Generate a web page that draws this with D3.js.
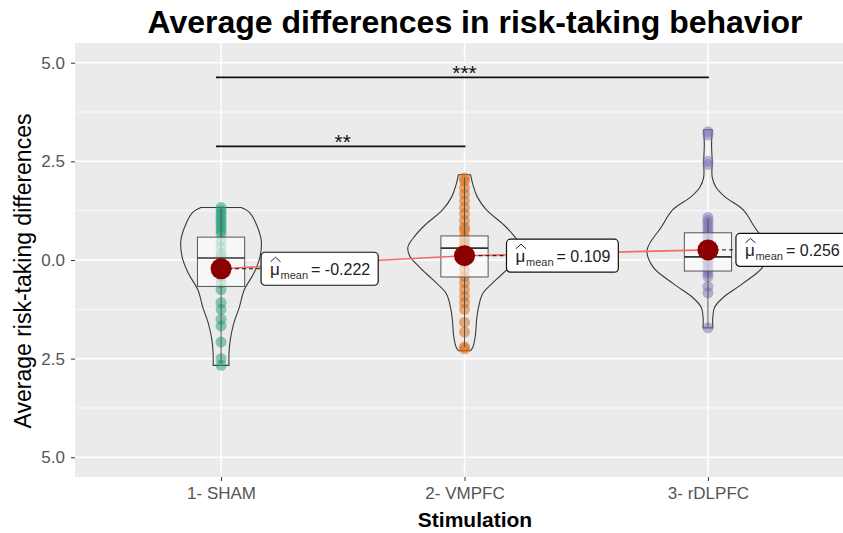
<!DOCTYPE html>
<html>
<head>
<meta charset="utf-8">
<script src="https://cdn.jsdelivr.net/npm/d3@7"></script>
<style>
  body { margin: 0; background: #fff; }
  svg { display: block; font-family: "Liberation Sans", Arial, sans-serif; }
</style>
</head>
<body>
<svg id="chart" width="843" height="533"></svg>
<script>
// ---- data ----
const categories = ["1- SHAM", "2- VMPFC", "3- rDLPFC"];

const shamValues = [1.33, 1.25, 1.17, 1.08, 1.0, 0.92, 0.83, 0.75, 0.67, 0.5, 0.33, 0.17, 0.08,
  -0.08, -0.25, -0.42, -0.58, -0.75, -1.08, -1.25, -1.5, -1.67, -2.08, -2.5, -2.67];
const vmpfcValues = [2.08, 2.0, 1.83, 1.67, 1.5, 1.33, 1.17, 1.0, 0.83, 0.75, 0.58, 0.5, 0.42, 0.33,
  0.33, 0.25, 0.17, 0.08, 0.0, -0.08, -0.25, -0.42, -0.58, -0.75, -0.92, -1.08, -1.25, -1.58, -1.83, -2.2, -2.25];
const rdlpfcValues = [3.25, 3.17, 2.5, 2.42, 1.08, 1.0, 0.92, 0.83, 0.75, 0.67, 0.58, 0.5, 0.42, 0.33,
  0.25, 0.17, 0.08, 0.0, -0.08, -0.17, -0.25, -0.33, -0.42, -0.67, -0.83, -1.72];

const meanValues = [-0.222, 0.109, 0.256];

// box-plot statistics per group
const q1Values = [-0.67, -0.43, -0.28];
const medianValues = [0.05, 0.3, 0.08];
const q3Values = [0.58, 0.61, 0.69];
const whiskerLowValues = [-2.62, -2.2, -1.7];
const whiskerHighValues = [1.33, 2.09, 1.07];

// violin outlines: [value, relative density]
const shamDensity = [[1.33, 0.33], [1.2, 0.47], [0.94, 0.57], [0.5, 0.66], [0.08, 0.64], [-0.33, 0.54],
  [-0.76, 0.38], [-1.2, 0.3], [-1.6, 0.21], [-2.03, 0.15], [-2.37, 0.13], [-2.67, 0.13]];
const vmpfcDensity = [[2.16, 0.1], [1.9, 0.14], [1.6, 0.21], [1.27, 0.36], [0.9, 0.64], [0.6, 0.82],
  [0.33, 0.93], [0.1, 0.9], [-0.18, 0.74], [-0.5, 0.52], [-0.85, 0.3], [-1.2, 0.23], [-1.5, 0.2],
  [-1.9, 0.18], [-2.2, 0.14], [-2.3, 0.1]];
const rdlpfcDensity = [[3.3, 0.07], [2.9, 0.06], [2.5, 0.07], [2.1, 0.07], [1.85, 0.13], [1.6, 0.28],
  [1.27, 0.58], [0.85, 0.76], [0.25, 1.0], [-0.18, 0.9], [-0.6, 0.57], [-0.95, 0.25], [-1.2, 0.11],
  [-1.45, 0.08], [-1.72, 0.08]];

const yTickValues = [-5, -2.5, 0, 2.5, 5];
const yTickLabels = ["5.0", "2.5", "0.0", "2.5", "5.0"];
const yMinorValues = [-3.75, -1.25, 1.25, 3.75];

// pairwise comparisons drawn as brackets above the groups
const comparisonPairs = [["1- SHAM", "2- VMPFC"], ["1- SHAM", "3- rDLPFC"]];
const comparisonHeights = [2.88, 4.63];
const comparisonLabels = ["**", "***"];

// ---- layout ----
const groupValues = [shamValues, vmpfcValues, rdlpfcValues];
const groupDensity = [shamDensity, vmpfcDensity, rdlpfcDensity];
const groupColors = ["#1B9E77", "#D95F02", "#7570B3"];
const labelOffsets = [40, 42, 28];

const panel = { left: 75, right: 854, top: 43, bottom: 477 };
const svg = d3.select("#chart");

const x = d3.scalePoint().domain(categories).range([panel.left, panel.right]).padding(0.6);
const y = d3.scaleLinear().domain([-5.5, 5.5]).range([panel.bottom, panel.top]);
const step = x.step();
const violinHalf = d3.scaleLinear().domain([0, 1]).range([0, 0.25 * step]);
const boxHalf = 0.097 * step;

// panel background and grid
svg.append("rect")
  .attr("x", panel.left).attr("y", panel.top)
  .attr("width", panel.right - panel.left).attr("height", panel.bottom - panel.top)
  .attr("fill", "#EBEBEB");

svg.append("g").selectAll("line").data(yMinorValues).join("line")
  .attr("x1", panel.left).attr("x2", panel.right)
  .attr("y1", d => y(d)).attr("y2", d => y(d))
  .attr("stroke", "#fff").attr("stroke-width", 0.8);
svg.append("g").selectAll("line").data(yTickValues).join("line")
  .attr("x1", panel.left).attr("x2", panel.right)
  .attr("y1", d => y(d)).attr("y2", d => y(d))
  .attr("stroke", "#fff").attr("stroke-width", 1.5);
svg.append("g").selectAll("line").data(categories).join("line")
  .attr("x1", d => x(d)).attr("x2", d => x(d))
  .attr("y1", panel.top).attr("y2", panel.bottom)
  .attr("stroke", "#fff").attr("stroke-width", 1.5);

// axes
const yAxis = svg.append("g")
  .attr("transform", `translate(${panel.left},0)`)
  .call(d3.axisLeft(y).tickValues(yTickValues)
    .tickFormat(d => yTickLabels[yTickValues.indexOf(d)]).tickSize(4).tickPadding(6));
yAxis.select(".domain").remove();
yAxis.selectAll(".tick line").attr("stroke", "#333");
yAxis.selectAll(".tick text").attr("fill", "#555").attr("font-size", 17)
  .attr("font-family", "'Liberation Sans', Arial, sans-serif");

const xAxis = svg.append("g")
  .attr("transform", `translate(0,${panel.bottom})`)
  .call(d3.axisBottom(x).tickSize(4).tickPadding(6));
xAxis.select(".domain").remove();
xAxis.selectAll(".tick line").attr("stroke", "#333");
xAxis.selectAll(".tick text").attr("fill", "#555").attr("font-size", 17)
  .attr("font-family", "'Liberation Sans', Arial, sans-serif");

// violins
const violinArea = d3.area()
  .curve(d3.curveCatmullRom)
  .y(d => y(d[0]));
groupDensity.forEach((dens, i) => {
  const cx = x(categories[i]);
  svg.append("path")
    .datum(dens)
    .attr("d", violinArea.x0(d => cx - violinHalf(d[1])).x1(d => cx + violinHalf(d[1])))
    .attr("fill", "none")
    .attr("stroke", "#3a3a3a")
    .attr("stroke-width", 1.1);
});

// individual observations
groupValues.forEach((vals, i) => {
  const cx = x(categories[i]);
  svg.append("g").selectAll("circle").data(vals).join("circle")
    .attr("cx", cx).attr("cy", d => y(d)).attr("r", 5.5)
    .attr("fill", groupColors[i]).attr("fill-opacity", 0.5);
});

// box plots
categories.forEach((c, i) => {
  const cx = x(c);
  const g = svg.append("g");
  g.append("line")
    .attr("x1", cx).attr("x2", cx)
    .attr("y1", y(whiskerHighValues[i])).attr("y2", y(whiskerLowValues[i]))
    .attr("stroke", "#555").attr("stroke-width", 1);
  g.append("rect")
    .attr("x", cx - boxHalf).attr("width", 2 * boxHalf)
    .attr("y", y(q3Values[i])).attr("height", y(q1Values[i]) - y(q3Values[i]))
    .attr("fill", "#fff").attr("fill-opacity", 0.6)
    .attr("stroke", "#555").attr("stroke-width", 1);
  g.append("line")
    .attr("x1", cx - boxHalf).attr("x2", cx + boxHalf)
    .attr("y1", y(medianValues[i])).attr("y2", y(medianValues[i]))
    .attr("stroke", "#333").attr("stroke-width", 1.6);
});

// line joining the group means
svg.append("path")
  .datum(meanValues)
  .attr("d", d3.line().x((d, i) => x(categories[i])).y(d => y(d)))
  .attr("fill", "none").attr("stroke", "#F26B6B").attr("stroke-width", 1.6);

// mean labels
meanValues.forEach((m, i) => {
  const cx = x(categories[i]);
  const cy = y(m);
  const left = cx + labelOffsets[i];
  svg.append("line")
    .attr("x1", cx).attr("x2", left).attr("y1", cy).attr("y2", cy)
    .attr("stroke", "#111").attr("stroke-width", 1).attr("stroke-dasharray", "4,3");
  const g = svg.append("g").attr("transform", `translate(${left},${cy})`);
  const rect = g.append("rect").attr("y", -16.5).attr("height", 33).attr("rx", 4)
    .attr("fill", "#fff").attr("stroke", "#111").attr("stroke-width", 1.2);
  g.append("text").attr("x", 9).attr("y", 6).attr("font-size", 17).attr("fill", "#222").text("μ");
  g.append("path").attr("d", "M9.5,-7 L14.5,-11.5 L19.5,-7")
    .attr("fill", "none").attr("stroke", "#222").attr("stroke-width", 1);
  g.append("text").attr("x", 19.5).attr("y", 10).attr("font-size", 11).attr("fill", "#333").text("mean");
  const val = g.append("text").attr("x", 50).attr("y", 6).attr("font-size", 16).attr("fill", "#222")
    .text("= " + d3.format(".3f")(m).replace("−", "-"));
  const w = 50 + val.node().getComputedTextLength() + 8;
  rect.attr("width", w);
});

// mean points
svg.append("g").selectAll("circle").data(meanValues).join("circle")
  .attr("cx", (d, i) => x(categories[i])).attr("cy", d => y(d)).attr("r", 10.5)
  .attr("fill", "#8B0000");

// significance brackets
comparisonPairs.forEach((pair, i) => {
  const yy = y(comparisonHeights[i]);
  const x1 = x(pair[0]), x2 = x(pair[1]);
  svg.append("line")
    .attr("x1", x1 - 5).attr("x2", x2 + 1).attr("y1", yy).attr("y2", yy)
    .attr("stroke", "#111").attr("stroke-width", 1.6);
  svg.append("text")
    .attr("x", (x1 + x2) / 2).attr("y", yy + 3)
    .attr("text-anchor", "middle").attr("font-size", 21).attr("fill", "#111")
    .text(comparisonLabels[i]);
});

// titles
svg.append("text")
  .attr("x", 475).attr("y", 33)
  .attr("text-anchor", "middle").attr("font-size", 32).attr("font-weight", "bold").attr("fill", "#000")
  .text("Average differences in risk-taking behavior");
svg.append("text")
  .attr("x", 475).attr("y", 527)
  .attr("text-anchor", "middle").attr("font-size", 21).attr("font-weight", "bold").attr("fill", "#000")
  .text("Stimulation");
svg.append("text")
  .attr("transform", "translate(31,271) rotate(-90)")
  .attr("text-anchor", "middle").attr("font-size", 23).attr("fill", "#000")
  .text("Average risk-taking differences");
</script>
</body>
</html>
